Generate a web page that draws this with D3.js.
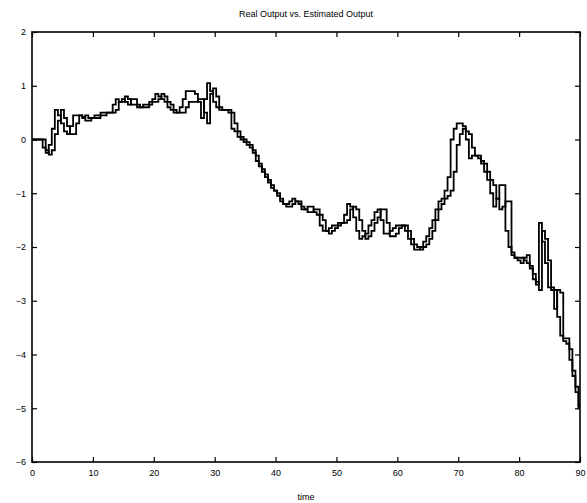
<!DOCTYPE html>
<html>
<head>
<meta charset="utf-8">
<script src="https://cdn.jsdelivr.net/npm/d3@7"></script>
<style>
  body { margin: 0; background: #fff; }
  text { font-family: "Liberation Sans", Arial, sans-serif; fill: #000; }
</style>
</head>
<body>
<div id="chart-area"></div>
<script>
const width = 587;
const height = 503;
const margin = {top: 32, right: 7, bottom: 41, left: 32};
const innerW = width - margin.left - margin.right;
const innerH = height - margin.top - margin.bottom;

// datos, muestreo cada 0.5 (t = 0..90)
const time = d3.range(0, 90.5, 0.5);
const realOutput = [
  0, 0, 0, 0, -0.15, -0.25, -0.1, 0.2, 0.55, 0.45,
  0.3, 0.15, 0.1, 0.25, 0.45, 0.45, 0.45, 0.42, 0.45, 0.4,
  0.4, 0.45, 0.45, 0.5, 0.5, 0.5, 0.5, 0.65, 0.75, 0.7,
  0.7, 0.8, 0.75, 0.65, 0.65, 0.6, 0.6, 0.65, 0.65, 0.7,
  0.75, 0.85, 0.8, 0.75, 0.7, 0.6, 0.55, 0.5, 0.5, 0.6,
  0.75, 0.9, 0.9, 0.9, 0.85, 0.7, 0.4, 0.75, 1.05, 0.9,
  0.7, 0.6, 0.55, 0.55, 0.55, 0.5, 0.2, 0.15, 0.05, 0.0,
  -0.05, -0.1, -0.15, -0.25, -0.4, -0.5, -0.6, -0.7, -0.8, -0.9,
  -0.95, -1.05, -1.1, -1.2, -1.2, -1.15, -1.1, -1.15, -1.2, -1.3,
  -1.3, -1.25, -1.25, -1.35, -1.4, -1.6, -1.7, -1.7, -1.65, -1.6,
  -1.6, -1.55, -1.55, -1.4, -1.2, -1.25, -1.45, -1.7, -1.85, -1.8,
  -1.75, -1.6, -1.5, -1.35, -1.3, -1.5, -1.75, -1.75, -1.7, -1.65,
  -1.6, -1.6, -1.6, -1.7, -1.85, -1.95, -2.05, -2.05, -2.0, -1.9,
  -1.8, -1.65, -1.5, -1.3, -1.15, -1.1, -0.95, -0.7, 0.0, 0.2,
  0.3, 0.3, 0.25, 0.0, -0.35, -0.3, -0.3, -0.35, -0.45, -0.6,
  -0.75, -1.0, -1.25, -1.1, -0.85, -0.85, -1.7, -2.0, -2.15, -2.2,
  -2.2, -2.2, -2.25, -2.3, -2.35, -2.5, -2.7, -1.55, -1.9, -2.3,
  -2.75, -2.8, -2.8, -3.3, -3.65, -3.75, -3.8, -4.1, -4.4, -4.7,
  -5.0
];
const estimatedOutput = [
  0, 0, 0, 0, 0, -0.2, -0.28, -0.2, 0.1, 0.35,
  0.55, 0.4, 0.25, 0.1, 0.1, 0.3, 0.45, 0.4, 0.35, 0.35,
  0.4, 0.4, 0.4, 0.45, 0.45, 0.5, 0.5, 0.5, 0.55, 0.7,
  0.75, 0.7, 0.65, 0.75, 0.75, 0.65, 0.6, 0.6, 0.6, 0.65,
  0.7, 0.7, 0.75, 0.85, 0.8, 0.7, 0.65, 0.55, 0.5, 0.5,
  0.5, 0.6, 0.7, 0.7, 0.7, 0.75, 0.75, 0.5, 0.3, 0.85,
  0.95, 0.8, 0.6, 0.55, 0.55, 0.55, 0.5, 0.3, 0.15, 0.05,
  0.0, -0.05, -0.1, -0.2, -0.3, -0.45, -0.55, -0.65, -0.75, -0.85,
  -0.95, -1.0, -1.15, -1.2, -1.25, -1.25, -1.2, -1.15, -1.15, -1.25,
  -1.3, -1.35, -1.35, -1.3, -1.3, -1.4, -1.5, -1.7, -1.75, -1.7,
  -1.65, -1.6, -1.55, -1.55, -1.5, -1.3, -1.25, -1.3, -1.5, -1.7,
  -1.85, -1.8, -1.7, -1.55, -1.45, -1.3, -1.3, -1.55, -1.8, -1.8,
  -1.75, -1.65, -1.6, -1.6, -1.7, -1.85, -1.95, -2.0, -2.05, -2.0,
  -1.95, -1.85, -1.7, -1.5, -1.3, -1.2, -1.1, -1.05, -0.95, -0.6,
  -0.1, 0.1, 0.2, 0.15, 0.1, -0.15, -0.3, -0.3, -0.4, -0.45,
  -0.6, -0.75, -0.85, -1.1, -1.3, -1.25, -1.15, -1.15, -2.1, -2.2,
  -2.25, -2.3, -2.2, -2.15, -2.4, -2.6, -2.65, -2.8, -1.7, -1.85,
  -2.25, -2.75, -3.15, -2.8, -2.85, -3.7, -3.7, -3.9, -4.3, -4.6,
  -4.95
];
const xTicks = [0, 10, 20, 30, 40, 50, 60, 70, 80, 90];
const yTicks = [-6, -5, -4, -3, -2, -1, 0, 1, 2];

const svg = d3.select("#chart-area")
  .append("svg")
  .attr("width", width)
  .attr("height", height);

const group = svg.append("g")
  .attr("transform", `translate(${margin.left}, ${margin.top})`);

// escalas
const x = d3.scaleLinear().domain([0, 90]).range([0, innerW]);
const y = d3.scaleLinear().domain([-6, 2]).range([innerH, 0]);

// ejes con ticks hacia adentro
const fmt = d => d < 0 ? "\u2212" + Math.abs(d) : String(d);
const axisStyle = (g) => {
  g.select(".domain").remove();
  g.selectAll("line").attr("stroke", "#000").attr("stroke-width", 1.2);
  g.selectAll("text").attr("font-size", "9px");
};

group.append("g")
  .attr("transform", `translate(0, ${innerH})`)
  .call(d3.axisBottom(x).tickValues(xTicks).tickFormat(fmt).tickSizeInner(-5).tickSizeOuter(0).tickPadding(8))
  .call(axisStyle);

group.append("g")
  .call(d3.axisTop(x).tickValues(xTicks).tickFormat("").tickSizeInner(-5).tickSizeOuter(0))
  .call(axisStyle);

group.append("g")
  .call(d3.axisLeft(y).tickValues(yTicks).tickFormat(fmt).tickSizeInner(-5).tickSizeOuter(0).tickPadding(6))
  .call(axisStyle);

group.append("g")
  .attr("transform", `translate(${innerW}, 0)`)
  .call(d3.axisRight(y).tickValues(yTicks).tickFormat("").tickSizeInner(-5).tickSizeOuter(0))
  .call(axisStyle);

// marco
group.append("rect")
  .attr("width", innerW)
  .attr("height", innerH)
  .attr("fill", "none")
  .attr("stroke", "#000")
  .attr("stroke-width", 1.6);

// lineas
const line = d3.line()
  .x((d, i) => x(time[i]))
  .y(d => y(d))
  .curve(d3.curveStep);

[realOutput, estimatedOutput].forEach(series => {
  group.append("path")
    .datum(series)
    .attr("fill", "none")
    .attr("stroke", "#000")
    .attr("stroke-width", 1.8)
    .attr("d", line);
});

// titulo y etiqueta
svg.append("text")
  .attr("x", margin.left + innerW / 2)
  .attr("y", 17)
  .attr("text-anchor", "middle")
  .attr("font-size", "9px")
  .text("Real Output vs. Estimated Output");

svg.append("text")
  .attr("x", margin.left + innerW / 2)
  .attr("y", 500)
  .attr("text-anchor", "middle")
  .attr("font-size", "9px")
  .text("time");
</script>
</body>
</html>
